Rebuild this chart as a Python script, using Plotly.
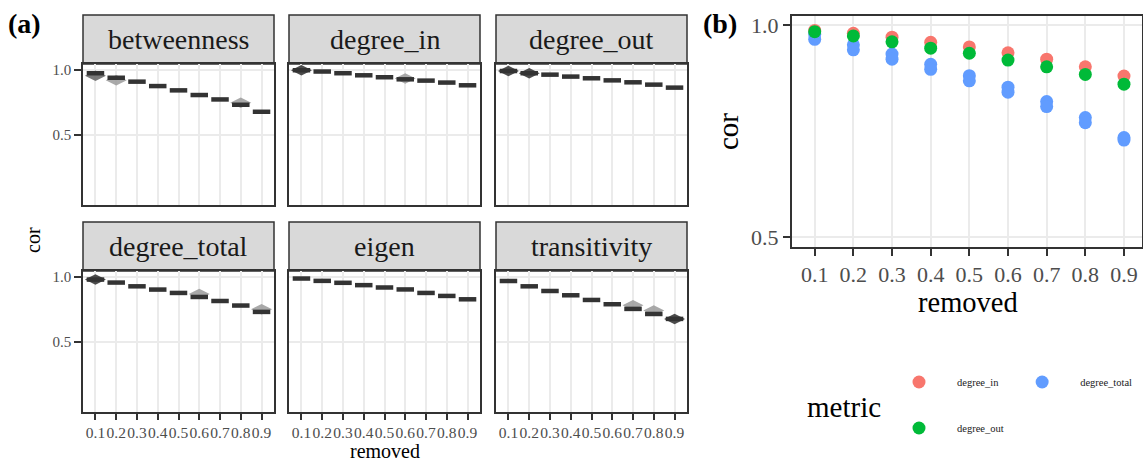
import plotly.graph_objects as go

# ---------------- data ----------------
REMOVED = [0.1, 0.2, 0.3, 0.4, 0.5, 0.6, 0.7, 0.8, 0.9]
TICK_LABELS = ["0.1", "0.2", "0.3", "0.4", "0.5", "0.6", "0.7", "0.8", "0.9"]
FACETS = ["betweenness", "degree_in", "degree_out", "degree_total", "eigen", "transitivity"]

COR_BETWEENNESS = [0.975, 0.940, 0.910, 0.876, 0.843, 0.807, 0.773, 0.732, 0.678]
COR_DEGREE_IN = [0.998, 0.988, 0.975, 0.959, 0.944, 0.928, 0.918, 0.903, 0.882]
COR_DEGREE_OUT = [0.992, 0.975, 0.964, 0.949, 0.936, 0.920, 0.905, 0.887, 0.864]
COR_DEGREE_TOTAL = [0.980, 0.957, 0.928, 0.903, 0.877, 0.846, 0.815, 0.780, 0.731]
COR_EIGEN = [0.988, 0.970, 0.955, 0.937, 0.919, 0.904, 0.877, 0.854, 0.828]
COR_TRANSITIVITY = [0.969, 0.928, 0.892, 0.859, 0.823, 0.790, 0.754, 0.715, 0.677]

# spread blobs behind the medians (x, y, shade)
BLOB_BETWEENNESS_X = [0.1, 0.2, 0.8]
BLOB_BETWEENNESS_Y = [0.955, 0.920, 0.748]
BLOB_BETWEENNESS_C = ["#6b6b6b", "#a0a0a0", "#a0a0a0"]
BLOB_DEGREE_IN_X = [0.1, 0.6]
BLOB_DEGREE_IN_Y = [0.998, 0.935]
BLOB_DEGREE_IN_C = ["#3a3a3a", "#a0a0a0"]
BLOB_DEGREE_OUT_X = [0.1, 0.2]
BLOB_DEGREE_OUT_Y = [0.992, 0.975]
BLOB_DEGREE_OUT_C = ["#3a3a3a", "#3a3a3a"]
BLOB_DEGREE_TOTAL_X = [0.1, 0.6, 0.9]
BLOB_DEGREE_TOTAL_Y = [0.980, 0.868, 0.752]
BLOB_DEGREE_TOTAL_C = ["#3a3a3a", "#a0a0a0", "#a0a0a0"]
BLOB_EIGEN_X = []
BLOB_EIGEN_Y = []
BLOB_EIGEN_C = []
BLOB_TRANSITIVITY_X = [0.7, 0.8, 0.9]
BLOB_TRANSITIVITY_Y = [0.782, 0.742, 0.677]
BLOB_TRANSITIVITY_C = ["#a0a0a0", "#a0a0a0", "#3a3a3a"]

# panel (b)
B_DEGREE_IN = [0.988, 0.981, 0.972, 0.960, 0.949, 0.935, 0.920, 0.902, 0.880]
B_DEGREE_OUT = [0.985, 0.975, 0.961, 0.946, 0.934, 0.918, 0.902, 0.884, 0.861]
B_DEGREE_TOTAL_A = [0.979, 0.954, 0.932, 0.908, 0.881, 0.854, 0.820, 0.782, 0.735]
B_DEGREE_TOTAL_B = [0.967, 0.942, 0.920, 0.896, 0.869, 0.842, 0.808, 0.770, 0.729]
COLORS_B = {"degree_in": "#F8766D", "degree_out": "#00BA38", "degree_total": "#619CFF"}

# ---------------- layout helpers ----------------
W, H = 1143, 464
FONT = "Liberation Serif"


def fx(p):
    return p / W


def fy(p):
    return 1 - p / H


COLS = [(83, 274), (289, 480), (496, 687)]
ROWS = [(64, 205), (271, 412)]
STRIPS = [(15, 64), (222, 271)]

facet_cor = [COR_BETWEENNESS, COR_DEGREE_IN, COR_DEGREE_OUT,
             COR_DEGREE_TOTAL, COR_EIGEN, COR_TRANSITIVITY]
facet_blobs = [
    (BLOB_BETWEENNESS_X, BLOB_BETWEENNESS_Y, BLOB_BETWEENNESS_C),
    (BLOB_DEGREE_IN_X, BLOB_DEGREE_IN_Y, BLOB_DEGREE_IN_C),
    (BLOB_DEGREE_OUT_X, BLOB_DEGREE_OUT_Y, BLOB_DEGREE_OUT_C),
    (BLOB_DEGREE_TOTAL_X, BLOB_DEGREE_TOTAL_Y, BLOB_DEGREE_TOTAL_C),
    (BLOB_EIGEN_X, BLOB_EIGEN_Y, BLOB_EIGEN_C),
    (BLOB_TRANSITIVITY_X, BLOB_TRANSITIVITY_Y, BLOB_TRANSITIVITY_C),
]

fig = go.Figure()
layout = {}
shapes = []
annotations = []

GRID = "#EBEBEB"
DARK = "#333333"

for i, name in enumerate(FACETS):
    r, c = divmod(i, 3)
    n = i + 1
    xa = "x" if n == 1 else f"x{n}"
    ya = "y" if n == 1 else f"y{n}"
    bx, by, bc = facet_blobs[i]
    if bx:
        fig.add_trace(go.Scatter(
            x=bx, y=by, xaxis=xa, yaxis=ya, mode="markers", showlegend=False,
            hoverinfo="skip",
            marker=dict(symbol="diamond-wide", size=15, color=bc, opacity=0.9,
                        line=dict(width=0))))
    fig.add_trace(go.Scatter(
        x=REMOVED, y=facet_cor[i], xaxis=xa, yaxis=ya, mode="markers",
        showlegend=False, name=name,
        marker=dict(symbol="line-ew", size=12.5, color=DARK,
                    line=dict(width=4.5, color=DARK))))
    x0, x1 = COLS[c]
    y0, y1 = ROWS[r]
    xkey = "xaxis" if n == 1 else f"xaxis{n}"
    ykey = "yaxis" if n == 1 else f"yaxis{n}"
    layout[xkey] = dict(
        domain=[fx(x0), fx(x1)], range=[0.04, 0.96], anchor=ya,
        tickvals=REMOVED, ticktext=TICK_LABELS, tickangle=0, automargin=False,
        showticklabels=(r == 1),
        ticks="outside" if r == 1 else "", ticklen=6, tickwidth=2, tickcolor=DARK,
        tickfont=dict(family=FONT, size=15.5, color="#4D4D4D"),
        showgrid=True, gridcolor=GRID, gridwidth=2,
        showline=True, mirror=True, linecolor=DARK, linewidth=1.5,
        zeroline=False, fixedrange=True)
    layout[ykey] = dict(
        domain=[fy(y1), fy(y0)], range=[-0.04, 1.046], anchor=xa, automargin=False,
        tickvals=[0.5, 1.0], ticktext=["0.5", "1.0"],
        showticklabels=(c == 0),
        ticks="outside" if c == 0 else "", ticklen=7, tickwidth=2, tickcolor=DARK,
        tickfont=dict(family=FONT, size=15, color="#4D4D4D"),
        showgrid=True, gridcolor=GRID, gridwidth=2,
        showline=True, mirror=True, linecolor=DARK, linewidth=1.5,
        zeroline=False, fixedrange=True)
    s0, s1 = STRIPS[r]
    shapes.append(dict(type="rect", xref="paper", yref="paper",
                       x0=fx(x0), x1=fx(x1), y0=fy(s1), y1=fy(s0),
                       fillcolor="#D9D9D9", line=dict(color=DARK, width=1.5),
                       layer="below"))
    annotations.append(dict(text=name, xref="paper", yref="paper",
                            x=fx((x0 + x1) / 2), y=fy((s0 + s1) / 2),
                            xanchor="center", yanchor="middle", showarrow=False,
                            font=dict(family=FONT, size=28, color="#1A1A1A")))

# panel (b)
BX = (791.7, 1142)
BY = (15.7, 247.3)
series_b = [("degree_in", [B_DEGREE_IN]),
            ("degree_total", [B_DEGREE_TOTAL_A, B_DEGREE_TOTAL_B]),
            ("degree_out", [B_DEGREE_OUT])]
for name, reps in series_b:
    for k, vals in enumerate(reps):
        fig.add_trace(go.Scatter(
            x=REMOVED, y=vals, xaxis="x7", yaxis="y7", mode="markers",
            name=name, showlegend=(k == 0),
            legend="legend2" if name == "degree_out" else "legend",
            marker=dict(symbol="circle", size=13, color=COLORS_B[name],
                        line=dict(width=0))))

layout["xaxis7"] = dict(
    domain=[fx(BX[0]), fx(BX[1])], range=[0.0405, 0.9466], anchor="y7",
    tickvals=REMOVED, ticktext=TICK_LABELS, tickangle=0, automargin=False,
    ticks="outside", ticklen=7, tickwidth=2, tickcolor=DARK,
    tickfont=dict(family=FONT, size=22, color="#4D4D4D"),
    showgrid=True, gridcolor=GRID, gridwidth=2,
    showline=True, mirror=True, linecolor=DARK, linewidth=1.5,
    zeroline=False, fixedrange=True)
layout["yaxis7"] = dict(
    domain=[fy(BY[1]), fy(BY[0])], range=[0.4757, 1.0227], anchor="x7",
    tickvals=[0.5, 1.0], ticktext=["0.5", "1.0"], automargin=False,
    ticks="outside", ticklen=7, tickwidth=2, tickcolor=DARK,
    tickfont=dict(family=FONT, size=22, color="#4D4D4D"),
    showgrid=True, gridcolor=GRID, gridwidth=2,
    showline=True, mirror=True, linecolor=DARK, linewidth=1.5,
    zeroline=False, fixedrange=True)

# labels
annotations += [
    dict(text="<b>(a)</b>", x=fx(24), y=fy(24), font=dict(size=28)),
    dict(text="<b>(b)</b>", x=fx(720), y=fy(24), font=dict(size=28)),
    dict(text="cor", x=fx(33), y=fy(240), textangle=-90, font=dict(size=20)),
    dict(text="removed", x=fx(385), y=fy(451), font=dict(size=20)),
    dict(text="cor", x=fx(728), y=fy(132), textangle=-90, font=dict(size=29)),
    dict(text="removed", x=fx(968), y=fy(302), font=dict(size=28.5)),
    dict(text="metric", x=fx(844), y=fy(407), font=dict(size=29)),
]
for a in annotations[-7:]:
    a.update(xref="paper", yref="paper", xanchor="center", yanchor="middle",
             showarrow=False, borderpad=0)
    a["font"].update(family=FONT, color="#000000")

legend_common = dict(orientation="h", bgcolor="rgba(0,0,0,0)", itemwidth=66,
                     font=dict(family=FONT, size=10.5, color="#1A1A1A"),
                     xanchor="left", yanchor="middle", traceorder="normal",
                     itemclick=False, itemdoubleclick=False)
layout["legend"] = dict(x=fx(919 - 38), y=fy(382), **legend_common)
layout["legend2"] = dict(x=fx(919 - 38), y=fy(428), **legend_common)

fig.update_layout(
    width=W, height=H, margin=dict(l=0, r=0, t=0, b=0),
    paper_bgcolor="white", plot_bgcolor="white",
    shapes=shapes, annotations=annotations, showlegend=True,
    font=dict(family=FONT), **layout)

# remove the default 8px page margin so the figure fills the window exactly
fig.write_html("out.html",
               config={"displayModeBar": False},
               post_script="document.body.style.margin='0';"
                           "document.body.style.overflow='hidden';")
